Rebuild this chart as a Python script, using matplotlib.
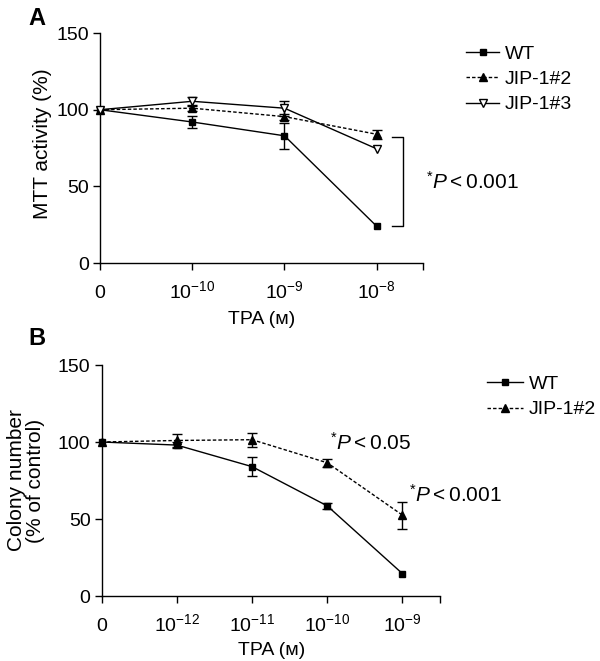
import numpy as np
import matplotlib
matplotlib.use("Agg")
import matplotlib.pyplot as plt

plt.rcParams['font.family'] = ['Liberation Sans', 'DejaVu Sans']
plt.rcParams['mathtext.fontset'] = 'custom'
plt.rcParams['mathtext.rm'] = 'Liberation Sans'
plt.rcParams['mathtext.it'] = 'Liberation Sans:italic'
plt.rcParams['font.size'] = 14

# Panel A data (MTT activity, %)
a_ticks = ['0', r'$10^{-10}$', r'$10^{-9}$', r'$10^{-8}$']
a_wt = [100, 92, 83, 24]
a_wt_err = [0, 4, 8.5, 0]
a_jip2 = [100, 101, 95.5, 84]
a_jip2_err = [0, 2, 2, 3]
a_jip3 = [100, 105.5, 101, 74.5]
a_jip3_err = [0, 3, 5, 0]

# Panel B data (colony number, % of control)
b_ticks = ['0', r'$10^{-12}$', r'$10^{-11}$', r'$10^{-10}$', r'$10^{-9}$']
b_wt = [100, 98, 84, 58.5, 14.5]
b_wt_err = [0, 2, 6.3, 2, 0]
b_jip2 = [100, 101, 101.5, 86.5, 52.5]
b_jip2_err = [0, 4, 4.5, 2.5, 8.7]

dash = (0, (2.5, 1.5))


def draw_series(ax, y, err, marker, ls, mfc, label):
    x = np.arange(len(y))
    y = np.asarray(y, float)
    err = np.asarray(err, float)
    m = err > 0
    ax.errorbar(x[m], y[m], yerr=err[m], fmt='none', ecolor='black',
                elinewidth=1, capsize=3.5, capthick=1, clip_on=False, zorder=2)
    ax.plot(x, y, color='black', lw=1, ls=ls, marker=marker, ms=5 if marker == 's' else 5.5,
            mfc=mfc, mec='black', mew=1, label=label, clip_on=False, zorder=3)


def style_axis(ax, labels, xmax):
    for s in ['top', 'right']:
        ax.spines[s].set_visible(False)
    for s in ['left', 'bottom']:
        ax.spines[s].set_linewidth(1)
    ax.set_xlim(0, xmax)
    ax.set_ylim(0, 150)
    ax.set_xticks(list(range(len(labels))) + [xmax])
    ax.set_xticklabels(labels + [''])
    ax.set_yticks([0, 50, 100, 150])
    ax.tick_params(axis='x', length=5, width=1, pad=20)
    ax.tick_params(axis='y', length=5, width=1, pad=3)
    for t in ax.get_xticklabels():
        t.set_va('baseline')


fig = plt.figure(figsize=(6, 6.61), dpi=100)

# ---- Panel A
axA = fig.add_axes([0.1667, 0.602, 0.538, 0.348])
draw_series(axA, a_wt, a_wt_err, 's', '-', 'black', 'WT')
draw_series(axA, a_jip2, a_jip2_err, '^', dash, 'black', 'JIP-1#2')
draw_series(axA, a_jip3, a_jip3_err, 'v', '-', 'white', 'JIP-1#3')
style_axis(axA, a_ticks, 3.5)
axA.set_ylabel('MTT activity (%)', fontsize=15)
axA.yaxis.set_label_coords(-0.149, 0.52)
axA.set_xlabel('TPA (ᴍ)')
axA.xaxis.set_label_coords(0.5, -0.21)

# significance bracket at 10^-8
xb = len(a_wt) - 1
top, bot = a_jip2[-1] - 2, a_wt[-1]
axA.plot([xb + 0.17, xb + 0.28, xb + 0.28, xb + 0.17], [top, top, bot, bot],
         color='black', lw=1, clip_on=False)
axA.text(xb + 0.53, (top + bot) / 2, r'$^{*}\mathit{P} < 0.001$', va='center', ha='left',
         fontsize=15)

fig.legend(*axA.get_legend_handles_labels(), loc='upper left', bbox_to_anchor=(0.777, 0.932),
           frameon=False, borderpad=0, borderaxespad=0, handlelength=1.7,
           handletextpad=0.3, labelspacing=0.4, fontsize=14)

fig.text(0.047, 0.99, 'A', fontsize=17, fontweight='bold', va='top', ha='left')

# ---- Panel B
axB = fig.add_axes([0.1695, 0.0983, 0.564, 0.3495])
draw_series(axB, b_wt, b_wt_err, 's', '-', 'black', 'WT')
draw_series(axB, b_jip2, b_jip2_err, '^', dash, 'black', 'JIP-1#2')
style_axis(axB, b_ticks, 4.5)
axB.set_ylabel('Colony number\n(% of control)', fontsize=15, linespacing=1.0)
axB.yaxis.set_label_coords(-0.168, 0.5)
axB.set_xlabel('TPA (ᴍ)')
axB.xaxis.set_label_coords(0.503, -0.2)

axB.text(3.04, 99.5, r'$^{*}\mathit{P} < 0.05$', va='center', ha='left', fontsize=15)
axB.text(4.08, 65.5, r'$^{*}\mathit{P} < 0.001$', va='center', ha='left', fontsize=15)

fig.legend(*axB.get_legend_handles_labels(), loc='upper left', bbox_to_anchor=(0.812, 0.432),
           frameon=False, borderpad=0, borderaxespad=0, handlelength=1.85,
           handletextpad=0.3, labelspacing=0.4, fontsize=14)

fig.text(0.047, 0.505, 'B', fontsize=17, fontweight='bold', va='top', ha='left')

fig.savefig('out.png', dpi=100)
